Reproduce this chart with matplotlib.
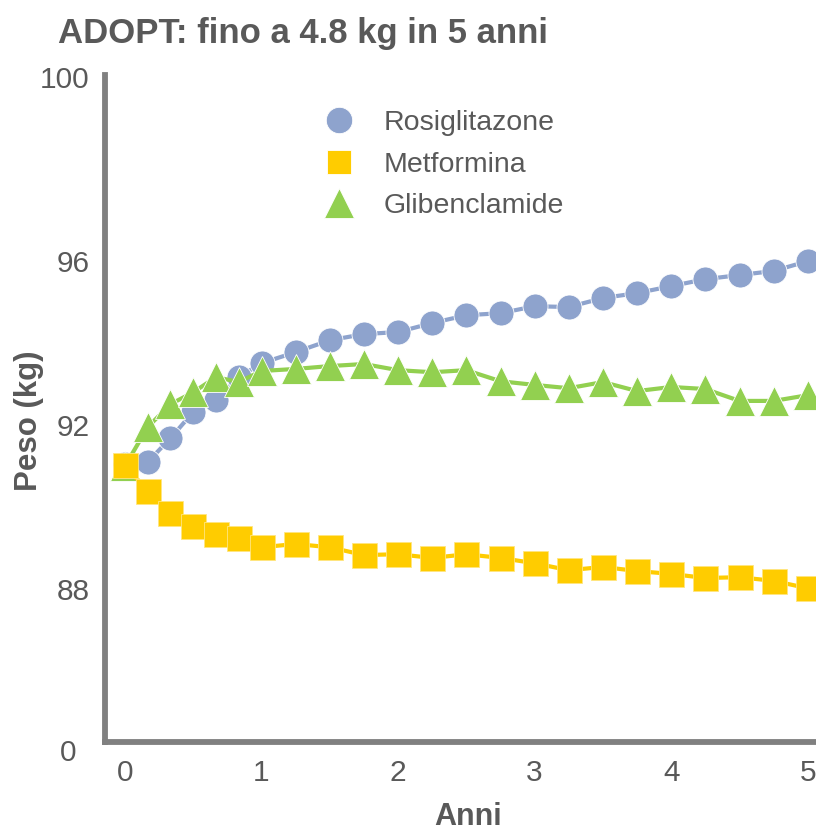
import matplotlib
matplotlib.use("Agg")
import matplotlib.pyplot as plt
from matplotlib.lines import Line2D
import numpy as np

plt.rcParams['font.family'] = ['Liberation Sans', 'DejaVu Sans']

# ---- data ----
months = [0, 2, 4, 6, 8, 10, 12, 15, 18, 21, 24, 27, 30, 33, 36, 39, 42, 45, 48, 51, 54, 57, 60]
rosiglitazone = [91.05, 91.10, 91.68, 92.32, 92.61, 93.17, 93.51, 93.78, 94.07, 94.22, 94.27, 94.49,
                 94.68, 94.73, 94.90, 94.88, 95.10, 95.22, 95.39, 95.56, 95.66, 95.76, 96.00]
metformina = [91.02, 90.39, 89.85, 89.54, 89.34, 89.24, 89.02, 89.10, 89.02, 88.83, 88.85, 88.76,
              88.85, 88.76, 88.63, 88.46, 88.54, 88.44, 88.37, 88.27, 88.29, 88.20, 88.02]
glibenclamide = [91.00, 91.95, 92.51, 92.80, 93.17, 93.05, 93.32, 93.37, 93.44, 93.49, 93.34, 93.29,
                 93.34, 93.07, 92.98, 92.90, 93.05, 92.83, 92.93, 92.88, 92.59, 92.59, 92.73]
series_names = ['Rosiglitazone', 'Metformina', 'Glibenclamide']
x_ticks = [0, 1, 2, 3, 4, 5]
x_ticklabels = ['0', '1', '2', '3', '4', '5']
y_ticks = [88, 92, 96, 100.5]
y_ticklabels = ['88', '92', '96', '100']
title = 'ADOPT: fino a 4.8 kg in 5 anni'
xlabel = 'Anni'
ylabel = 'Peso (kg)'

C_ROSI = '#8EA3CD'
C_MET = '#FFCC00'
C_GLI = '#92D050'
TXT = '#595959'
AX = '#808080'

W, H = 816, 835
fig = plt.figure(figsize=(W / 100, H / 100), dpi=100)
ax = fig.add_axes([105 / W, (H - 742) / H, (W - 105) / W + 0.02, (742 - 75) / H])

years = np.array(months) / 12.0

ax.plot(years, rosiglitazone, color=C_ROSI, lw=3, marker='o', ms=18,
        mec='white', mew=0.6, zorder=3, clip_on=False)
ax.plot(years, glibenclamide, color=C_GLI, lw=3, marker='^', ms=21,
        mec='white', mew=0.6, zorder=4, clip_on=False)
ax.plot(years, metformina, color=C_MET, lw=3, marker='s', ms=18,
        mec='#FFE680', mew=0.6, zorder=5, clip_on=False)

ax.set_xlim(-0.146, 5.06 + 0.02 * W / 136.6)
ax.set_ylim(84.27, 100.54)

for s in ['top', 'right']:
    ax.spines[s].set_visible(False)
for s in ['left', 'bottom']:
    ax.spines[s].set_color(AX)
    ax.spines[s].set_linewidth(4.2)

ax.set_xticks(x_ticks)
ax.set_xticklabels(x_ticklabels)
ax.set_yticks(y_ticks)
ax.set_yticklabels(y_ticklabels)
ax.tick_params(axis='both', length=0, labelsize=21.5, labelcolor=TXT)
ax.tick_params(axis='y', pad=11)
ax.tick_params(axis='x', pad=12)

# "0" at the bottom of the broken y axis
fig.text(68 / W, 1 - 753 / H, '0', ha='center', va='center', fontsize=21.5, color=TXT)

fig.text(58 / W, 1 - 43 / H, title, ha='left', va='baseline', fontsize=25,
         fontweight='bold', color=TXT)
fig.text(468 / W, 1 - 817 / H, xlabel, ha='center', va='center', fontsize=22,
         fontweight='bold', color=TXT)
fig.text(29 / W, 1 - 421 / H, ylabel, ha='center', va='center', rotation=90,
         fontsize=22.5, fontweight='bold', color=TXT)

handles = [
    Line2D([], [], ls='none', marker='o', ms=19, color=C_ROSI, mec='white', mew=0.6),
    Line2D([], [], ls='none', marker='s', ms=17, color=C_MET, mec='white', mew=0.6),
    Line2D([], [], ls='none', marker='^', ms=21, color=C_GLI, mec='white', mew=0.6),
]
leg = ax.legend(handles, series_names, loc='upper left', bbox_to_anchor=(325 / W, 1 - 110 / H),
                bbox_transform=fig.transFigure, frameon=False, fontsize=20.5,
                handlelength=1.0, handletextpad=1.05, labelspacing=0.55, borderpad=0,
                borderaxespad=0, numpoints=1)
for t in leg.get_texts():
    t.set_color(TXT)

fig.savefig('out.png', dpi=100)
